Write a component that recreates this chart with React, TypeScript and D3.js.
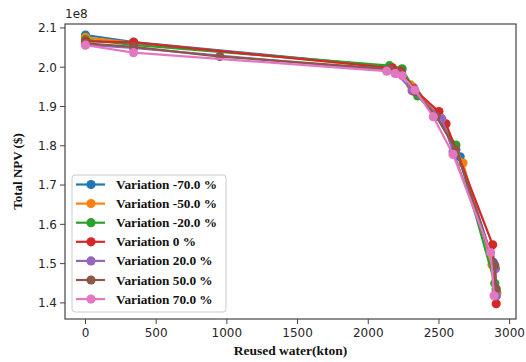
import React from "react";
import * as d3 from "d3";

const seriesNames = [
  "Variation -70.0 %",
  "Variation -50.0 %",
  "Variation -20.0 %",
  "Variation 0 %",
  "Variation 20.0 %",
  "Variation 50.0 %",
  "Variation 70.0 %",
];
const seriesColors = ["#1f77b4", "#ff7f0e", "#2ca02c", "#d62728", "#9467bd", "#8c564b", "#e377c2"];

// reused water (kton), total NPV (1e8 $)
const sMinus70: [number, number][] = [[0, 2.082], [340, 2.064], [2150, 2.001], [2230, 1.993], [2320, 1.948], [2480, 1.880], [2650, 1.772], [2885, 1.503], [2905, 1.418]];
const sMinus50: [number, number][] = [[0, 2.076], [340, 2.062], [2170, 1.999], [2220, 1.990], [2300, 1.955], [2490, 1.884], [2670, 1.756], [2875, 1.497], [2910, 1.425]];
const sMinus20: [number, number][] = [[0, 2.070], [340, 2.057], [2150, 2.004], [2240, 1.996], [2350, 1.927], [2470, 1.880], [2620, 1.802], [2895, 1.450], [2905, 1.430]];
const sZero: [number, number][] = [[0, 2.066], [340, 2.063], [2170, 1.998], [2230, 1.990], [2320, 1.945], [2500, 1.887], [2550, 1.856], [2880, 1.548], [2905, 1.398]];
const sPlus20: [number, number][] = [[0, 2.057], [340, 2.049], [2140, 1.992], [2200, 1.985], [2310, 1.940], [2520, 1.869], [2600, 1.785], [2900, 1.487], [2905, 1.418]];
const sPlus50: [number, number][] = [[0, 2.061], [340, 2.052], [950, 2.027], [2150, 1.996], [2230, 1.985], [2330, 1.938], [2480, 1.875], [2620, 1.790], [2895, 1.495], [2905, 1.436]];
const sPlus70: [number, number][] = [[0, 2.056], [340, 2.037], [2130, 1.990], [2190, 1.984], [2240, 1.978], [2330, 1.942], [2460, 1.874], [2600, 1.778], [2865, 1.528], [2890, 1.418]];

const allSeries = [sMinus70, sMinus50, sMinus20, sZero, sPlus20, sPlus50, sPlus70];

const xTicks = [0, 500, 1000, 1500, 2000, 2500, 3000];
const yTicks = [1.4, 1.5, 1.6, 1.7, 1.8, 1.9, 2.0, 2.1];

export default function App() {
  const left = 65, right = 516, top = 24, bottom = 319;
  const x = d3.scaleLinear().domain([-145, 3045]).range([left, right]);
  const y = d3.scaleLinear().domain([1.359, 2.110]).range([bottom, top]);
  const line = d3.line<[number, number]>().x((d) => x(d[0])).y((d) => y(d[1]));
  const sans = "'DejaVu Sans', sans-serif";
  const serif = "'Liberation Serif', 'Times New Roman', serif";
  const axisColor = "#444";
  const textColor = "#262626";

  const legX = 72, legY = 175, legW = 154, legH = 137, rowH = 19.1;

  return (
    <svg width={526} height={362} style={{ position: "absolute", left: 0, top: 0, background: "#fff" }}>
      <rect x={0} y={0} width={526} height={362} fill="#fff" />
      <defs>
        <clipPath id="plotclip">
          <rect x={left} y={top} width={right - left} height={bottom - top} />
        </clipPath>
      </defs>
      <g clipPath="url(#plotclip)">
        {allSeries.map((s, i) => (
          <g key={i}>
            <path d={line(s) || ""} fill="none" stroke={seriesColors[i]} strokeWidth={2.2} />
            {s.map((d, j) => (
              <circle key={j} cx={x(d[0])} cy={y(d[1])} r={4.6} fill={seriesColors[i]} />
            ))}
          </g>
        ))}
      </g>
      <rect x={left} y={top} width={right - left} height={bottom - top} fill="none" stroke={axisColor} strokeWidth={1.2} />
      {xTicks.map((t) => (
        <g key={t}>
          <line x1={x(t)} x2={x(t)} y1={bottom} y2={bottom + 5} stroke={axisColor} strokeWidth={1} />
          <text x={x(t)} y={bottom + 18} textAnchor="middle" fontFamily={sans} fontSize={12} fill={textColor}>
            {t}
          </text>
        </g>
      ))}
      {yTicks.map((t) => (
        <g key={t}>
          <line x1={left - 5} x2={left} y1={y(t)} y2={y(t)} stroke={axisColor} strokeWidth={1} />
          <text x={left - 8} y={y(t) + 4.3} textAnchor="end" fontFamily={sans} fontSize={12} fill={textColor}>
            {t.toFixed(1)}
          </text>
        </g>
      ))}
      <text x={left} y={18} fontFamily={sans} fontSize={12} fill={textColor}>1e8</text>
      <text x={(left + right) / 2} y={355} textAnchor="middle" fontFamily={serif} fontWeight="bold" fontSize={13.5} fill="#111">
        Reused water(kton)
      </text>
      <text transform={`translate(22, ${(top + bottom) / 2}) rotate(-90)`} textAnchor="middle" fontFamily={serif} fontWeight="bold" fontSize={13} fill="#111">
        Total NPV ($)
      </text>
      <rect x={legX} y={legY} width={legW} height={legH} rx={3} fill="#fff" fillOpacity={0.85} stroke="#ccc" strokeWidth={1} />
      {seriesNames.map((n, i) => {
        const cy = legY + 9.5 + i * rowH;
        return (
          <g key={n}>
            <line x1={legX + 4} x2={legX + 33} y1={cy} y2={cy} stroke={seriesColors[i]} strokeWidth={2.2} />
            <circle cx={legX + 19} cy={cy} r={4.6} fill={seriesColors[i]} />
            <text x={legX + 44} y={cy + 4.5} fontFamily={serif} fontWeight="bold" fontSize={13.3} fill="#111">
              {n}
            </text>
          </g>
        );
      })}
    </svg>
  );
}
